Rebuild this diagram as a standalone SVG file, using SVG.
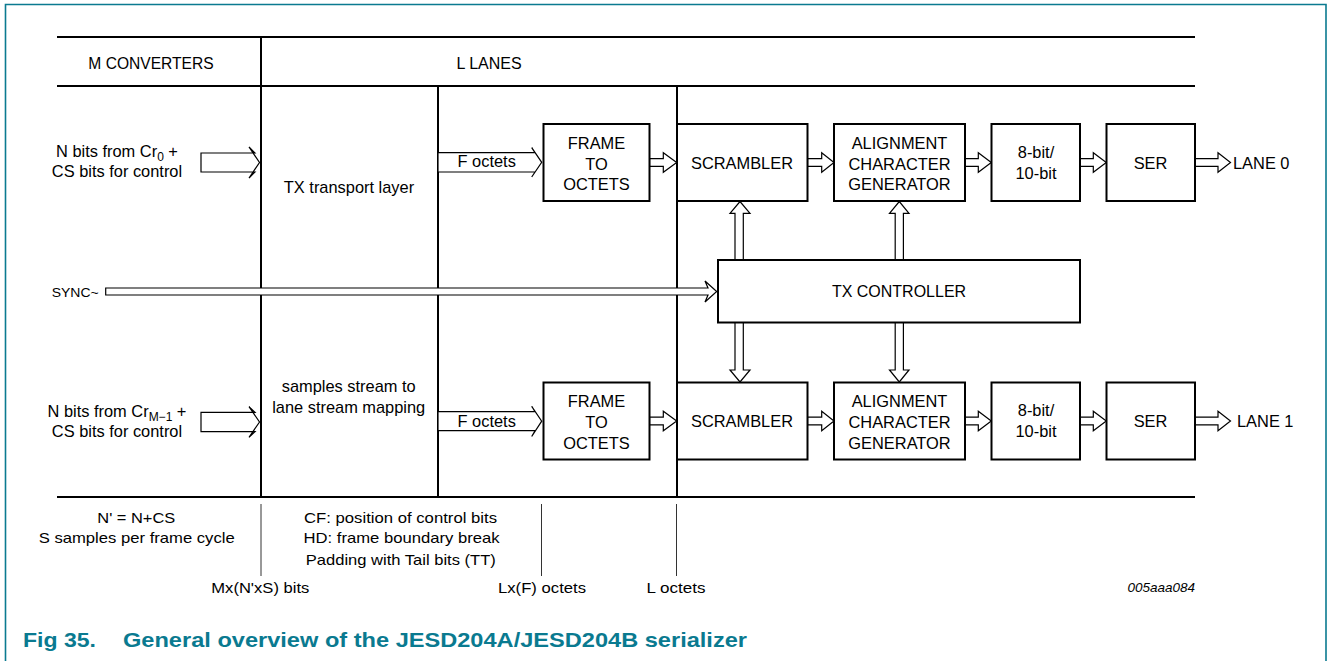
<svg xmlns="http://www.w3.org/2000/svg" width="1328" height="661" viewBox="0 0 1328 661">
<style>
text{font-family:"Liberation Sans",Arial,sans-serif;fill:#000;}
.t{font-size:16.4px;}
.c{text-anchor:middle;}
.sm{font-size:15px;}
.box{fill:#fff;stroke:#000;stroke-width:2;}
.ln{stroke:#000;stroke-width:2;fill:none;}
.thin{stroke:#333;stroke-width:1;fill:none;}
.ha{fill:#fff;stroke:#000;stroke-width:1.2;stroke-linejoin:miter;}
.cap{font-weight:bold;font-size:21px;fill:#0a7a90;}
</style>
<rect x="0" y="0" width="1328" height="661" fill="#fff"/>
<path d="M5.5 661 V4.5 H1326 V661" fill="none" stroke="#0a7a90" stroke-width="1.6"/>

<g id="grid">
<line class="ln" x1="57" y1="37" x2="1195" y2="37"/>
<line class="ln" x1="57" y1="86" x2="1195" y2="86"/>
<line class="ln" x1="57" y1="497" x2="1195" y2="497"/>
<line class="ln" x1="261" y1="37" x2="261" y2="497"/>
<line class="ln" x1="438" y1="86" x2="438" y2="497"/>
<line class="ln" x1="677" y1="86" x2="677" y2="497"/>
<line class="thin" x1="261" y1="504" x2="261" y2="576"/>
<line class="thin" x1="541.5" y1="504" x2="541.5" y2="576"/>
<line class="thin" x1="676.5" y1="504" x2="676.5" y2="576"/>
</g>

<g id="headers">
<text class="c" x="151" y="69" font-size="15.6">M CONVERTERS</text>
<text class="c" x="489" y="69" font-size="16">L LANES</text>
</g>

<g id="input0">
<text class="t c" x="117" y="157">N bits from Cr<tspan font-size="12" dy="4">0</tspan><tspan dy="-4"> +</tspan></text>
<text class="t c" x="117" y="177">CS bits for control</text>
</g>
<g id="input1">
<text class="t c" x="117" y="416.7">N bits from Cr<tspan font-size="12" dy="4">M−1</tspan><tspan dy="-4"> +</tspan></text>
<text class="t c" x="117" y="437.3">CS bits for control</text>
</g>
<g id="sync-label">
<text x="51.7" y="297.3" font-size="13" textLength="47" lengthAdjust="spacingAndGlyphs">SYNC~</text>
</g>

<g id="transport">
<text class="t c" x="349" y="193">TX transport layer</text>
<text class="t c" x="348.7" y="391.7">samples stream to</text>
<text class="t c" x="348.7" y="413.3">lane stream mapping</text>
</g>

<g id="connectors">
<!-- input arrows -->
<polygon class="ha" points="201,153 255,153 249,147 259.5,162.5 249,178 255,172 201,172"/>
<polygon class="ha" points="201,412.3 255,412.3 249,406.7 259.5,422 249,437.3 255,431.7 201,431.7"/>
<!-- F octets arrows -->
<polygon class="ha" points="438,152.7 535,152.7 531.7,147.7 541.7,162.3 531.7,177 535,172 438,172"/>
<polygon class="ha" points="438,411.7 535,411.7 531.7,406.3 541.7,421.2 531.7,436.5 535,430.7 438,430.7"/>
<text class="t c" x="486.7" y="167.3">F octets</text>
<text class="t c" x="486.7" y="427">F octets</text>
<!-- SYNC arrow -->
<polygon class="ha" points="105.7,288 708,288 705,281 716.7,291.5 705,302 708,295 105.7,295"/>
<!-- small arrows top row -->
<polygon class="ha" points="649.5,158.7 663.3,158.7 663.3,152.7 676.7,162.5 663.3,172.3 663.3,166.3 649.5,166.3"/>
<polygon class="ha" points="807.5,158.7 821.7,158.7 821.7,152.7 834,162.5 821.7,172.3 821.7,166.3 807.5,166.3"/>
<polygon class="ha" points="965,158.7 978.3,158.7 978.3,152.7 991.3,162.5 978.3,172.3 978.3,166.3 965,166.3"/>
<polygon class="ha" points="1080,158.7 1093.3,158.7 1093.3,152.7 1106.3,162.5 1093.3,172.3 1093.3,166.3 1080,166.3"/>
<polygon class="ha" points="1195,158.7 1218,158.7 1218,152.7 1230.5,162.5 1218,172.3 1218,166.3 1195,166.3"/>
<!-- small arrows bottom row -->
<polygon class="ha" points="649.5,417.2 663.3,417.2 663.3,411.2 676.7,421 663.3,430.8 663.3,424.8 649.5,424.8"/>
<polygon class="ha" points="807.5,417.2 821.7,417.2 821.7,411.2 834,421 821.7,430.8 821.7,424.8 807.5,424.8"/>
<polygon class="ha" points="965,417.2 978.3,417.2 978.3,411.2 991.3,421 978.3,430.8 978.3,424.8 965,424.8"/>
<polygon class="ha" points="1080,417.2 1093.3,417.2 1093.3,411.2 1106.3,421 1093.3,430.8 1093.3,424.8 1080,424.8"/>
<polygon class="ha" points="1195,417.2 1218,417.2 1218,411.2 1230.5,421 1218,430.8 1218,424.8 1195,424.8"/>
<!-- vertical arrows up -->
<polygon class="ha" points="735,260 735,213.3 730,213.3 740,201.5 750,213.3 743.3,213.3 743.3,260"/>
<polygon class="ha" points="895.2,260 895.2,213.3 889.5,213.3 899.3,201.5 909,213.3 903.4,213.3 903.4,260"/>
<!-- vertical arrows down -->
<polygon class="ha" points="735,322.5 735,370 730,370 740,382 750,370 743.3,370 743.3,322.5"/>
<polygon class="ha" points="895.2,322.5 895.2,370 889.5,370 899.3,382 909,370 903.4,370 903.4,322.5"/>
</g>

<g id="frame0">
<rect class="box" x="543.5" y="124" width="106" height="77"/>
<text class="t c" x="596.5" y="148.5">FRAME</text>
<text class="t c" x="596.5" y="169.5">TO</text>
<text class="t c" x="596.5" y="190">OCTETS</text>
</g>
<g id="scrambler0">
<rect class="box" x="677" y="124" width="130.5" height="77"/>
<text class="t c" x="742" y="168.5">SCRAMBLER</text>
</g>
<g id="align0">
<rect class="box" x="834" y="124" width="131" height="77"/>
<text class="t c" x="899.5" y="148.5">ALIGNMENT</text>
<text class="t c" x="899.5" y="169.5">CHARACTER</text>
<text class="t c" x="899.5" y="190">GENERATOR</text>
</g>
<g id="enc0">
<rect class="box" x="991.5" y="124" width="88.5" height="77"/>
<text class="t c" x="1036" y="157.5">8-bit/</text>
<text class="t c" x="1036" y="178.5">10-bit</text>
</g>
<g id="ser0">
<rect class="box" x="1106.5" y="124" width="88.5" height="77"/>
<text class="t c" x="1150.5" y="168.5">SER</text>
</g>
<g id="lane0">
<text class="t" x="1233" y="168.5">LANE 0</text>
</g>

<g id="txctrl">
<rect class="box" x="718" y="260" width="362" height="62.5"/>
<text class="c" x="899" y="297" font-size="16">TX CONTROLLER</text>
</g>

<g id="frame1">
<rect class="box" x="543.5" y="382.5" width="106" height="77"/>
<text class="t c" x="596.5" y="407">FRAME</text>
<text class="t c" x="596.5" y="428">TO</text>
<text class="t c" x="596.5" y="448.5">OCTETS</text>
</g>
<g id="scrambler1">
<rect class="box" x="677" y="382.5" width="130.5" height="77"/>
<text class="t c" x="742" y="427">SCRAMBLER</text>
</g>
<g id="align1">
<rect class="box" x="834" y="382.5" width="131" height="77"/>
<text class="t c" x="899.5" y="407">ALIGNMENT</text>
<text class="t c" x="899.5" y="428">CHARACTER</text>
<text class="t c" x="899.5" y="448.5">GENERATOR</text>
</g>
<g id="enc1">
<rect class="box" x="991.5" y="382.5" width="88.5" height="77"/>
<text class="t c" x="1036" y="416">8-bit/</text>
<text class="t c" x="1036" y="437">10-bit</text>
</g>
<g id="ser1">
<rect class="box" x="1106.5" y="382.5" width="88.5" height="77"/>
<text class="t c" x="1150.5" y="427">SER</text>
</g>
<g id="lane1">
<text class="t" x="1237" y="427">LANE 1</text>
</g>

<g id="notes">
<text class="sm c" x="136.3" y="522.7" textLength="78" lengthAdjust="spacingAndGlyphs">N' = N+CS</text>
<text class="sm c" x="136.7" y="543.3" textLength="196" lengthAdjust="spacingAndGlyphs">S samples per frame cycle</text>
<text class="sm c" x="400.5" y="522.7" textLength="193" lengthAdjust="spacingAndGlyphs">CF: position of control bits</text>
<text class="sm c" x="401.5" y="543.3" textLength="196" lengthAdjust="spacingAndGlyphs">HD: frame boundary break</text>
<text class="sm c" x="400.8" y="565" textLength="190" lengthAdjust="spacingAndGlyphs">Padding with Tail bits (TT)</text>
<text class="sm c" x="260.3" y="592.7" textLength="98" lengthAdjust="spacingAndGlyphs">Mx(N'xS) bits</text>
<text class="sm c" x="542" y="592.7" textLength="88" lengthAdjust="spacingAndGlyphs">Lx(F) octets</text>
<text class="sm c" x="676" y="592.7" textLength="59" lengthAdjust="spacingAndGlyphs">L octets</text>
<text x="1195" y="592" font-size="13.5" font-style="italic" text-anchor="end">005aaa084</text>
</g>

<g id="caption">
<text class="cap" x="23" y="647" textLength="73" lengthAdjust="spacingAndGlyphs">Fig 35.</text>
<text class="cap" x="123" y="647" textLength="624" lengthAdjust="spacingAndGlyphs">General overview of the JESD204A/JESD204B serializer</text>
</g>
</svg>
